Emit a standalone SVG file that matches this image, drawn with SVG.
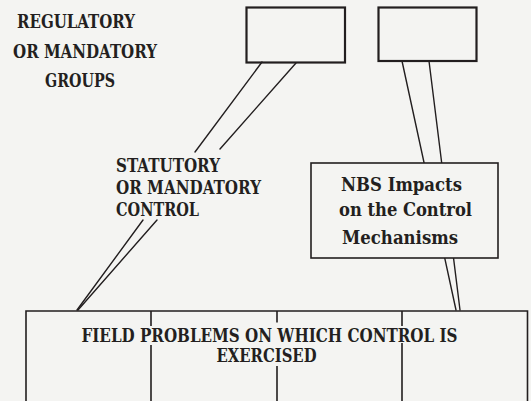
<svg xmlns="http://www.w3.org/2000/svg" width="531" height="401" viewBox="0 0 531 401">
  <style>
    .bg { fill: #f4f4f2; }
    .box { fill: none; stroke: #221e1f; stroke-width: 2.2; }
    .box2 { fill: #f4f4f2; stroke: #221e1f; stroke-width: 1.6; }
    .ln { stroke: #221e1f; stroke-width: 1.4; fill: none; stroke-linecap: round; }
    .div { stroke: #221e1f; stroke-width: 1.6; fill: none; }
    .t { font-family: "DejaVu Serif Condensed", "DejaVu Serif", "Liberation Serif", serif; font-stretch: condensed; font-weight: bold; font-size: 19px; fill: #231f20; }
    .s { font-size: 18px; }
  </style>
  <rect class="bg" x="0" y="0" width="531" height="401"/>

  <g id="connectors">
    <line class="ln" x1="262" y1="62" x2="195" y2="152"/>
    <line class="ln" x1="143" y1="220" x2="77" y2="310"/>
    <line class="ln" x1="296" y1="63" x2="220" y2="149"/>
    <line class="ln" x1="157" y1="220" x2="78" y2="310"/>
    <line class="ln" x1="402" y1="61" x2="456" y2="310"/>
    <line class="ln" x1="429" y1="61" x2="460" y2="310"/>
  </g>

  <g id="label-regulatory">
    <text class="t" x="17" y="28" textLength="118" lengthAdjust="spacingAndGlyphs">REGULATORY</text>
    <text class="t" x="13" y="58" textLength="144" lengthAdjust="spacingAndGlyphs">OR MANDATORY</text>
    <text class="t" x="45" y="87" textLength="70" lengthAdjust="spacingAndGlyphs">GROUPS</text>
  </g>

  <g id="node-box1">
    <rect class="box" x="246.5" y="7.5" width="98.5" height="55"/>
  </g>

  <g id="node-box2">
    <rect class="box" x="378.5" y="7.5" width="98" height="53.5"/>
  </g>

  <g id="label-statutory">
    <text class="t" x="116" y="172" textLength="104" lengthAdjust="spacingAndGlyphs">STATUTORY</text>
    <text class="t" x="116" y="193.5" textLength="145" lengthAdjust="spacingAndGlyphs">OR MANDATORY</text>
    <text class="t" x="116" y="216" textLength="83" lengthAdjust="spacingAndGlyphs">CONTROL</text>
  </g>

  <g id="node-nbs">
    <rect class="box2" x="311" y="163" width="187" height="95"/>
    <text class="t" x="341" y="191" textLength="121" lengthAdjust="spacingAndGlyphs">NBS Impacts</text>
    <text class="t" x="339" y="216" textLength="133" lengthAdjust="spacingAndGlyphs">on the Control</text>
    <text class="t" x="342" y="243.5" textLength="116" lengthAdjust="spacingAndGlyphs">Mechanisms</text>
  </g>

  <g id="node-field">
    <path class="div" d="M26,401 V311 H527.5 V401"/>
    <path class="div" d="M151,311 V326 M151,345 V401 M277,311 V322.5 M277,366 V401 M402,311 V326 M402,343 V401"/>
    <text class="t s" x="81.5" y="342" textLength="376" lengthAdjust="spacingAndGlyphs">FIELD PROBLEMS ON WHICH CONTROL IS</text>
    <text class="t s" x="216.5" y="361.5" textLength="100" lengthAdjust="spacingAndGlyphs">EXERCISED</text>
  </g>
</svg>
